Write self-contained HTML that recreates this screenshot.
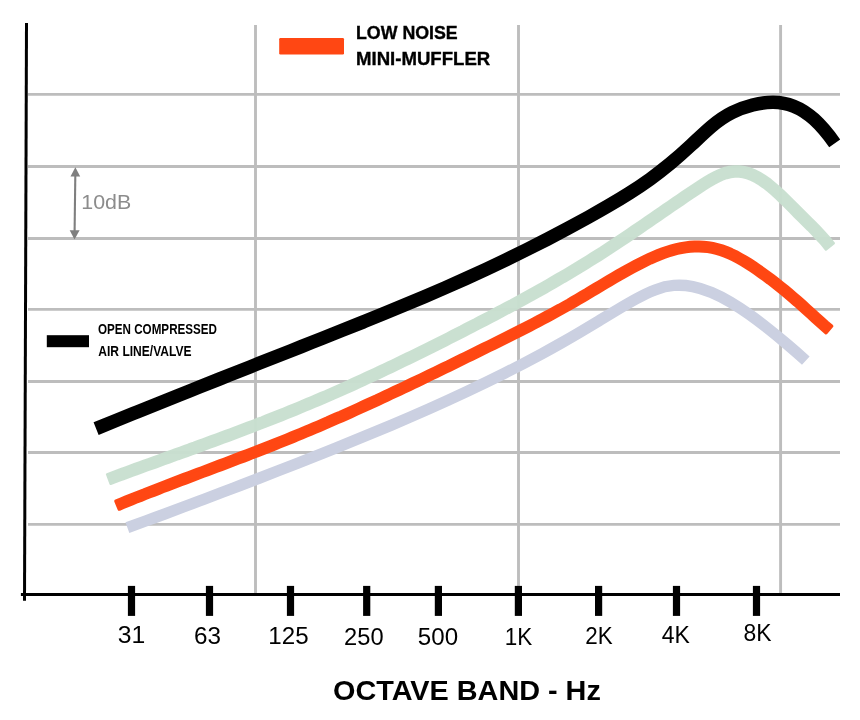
<!DOCTYPE html>
<html lang="en"><head><meta charset="utf-8"><title>Octave Band Noise Chart</title>
<style>html,body{margin:0;padding:0;background:#fff}svg{display:block}</style></head>
<body>
<svg width="860" height="720" viewBox="0 0 860 720">
<rect width="860" height="720" fill="#fff"/>
<g stroke="#bdbdbd" stroke-width="2.9" fill="none">
<line x1="28" y1="94.4" x2="840" y2="94.4"/>
<line x1="28" y1="166.5" x2="840" y2="166.5"/>
<line x1="28" y1="238.5" x2="840" y2="238.5"/>
<line x1="28" y1="309.4" x2="840" y2="309.4"/>
<line x1="28" y1="381.5" x2="840" y2="381.5"/>
<line x1="28" y1="452.5" x2="840" y2="452.5"/>
<line x1="28" y1="524.4" x2="840" y2="524.4"/>
<line x1="255.5" y1="25" x2="255.5" y2="594"/>
<line x1="518.5" y1="25" x2="518.5" y2="594"/>
<line x1="780.6" y1="25" x2="780.6" y2="594"/>
</g>
<g fill="none" stroke-linejoin="round">
<path d="M127.40 527.68C133.68 525.40 139.96 523.10 146.24 520.79C152.53 518.49 158.81 516.17 165.09 513.84C171.37 511.51 177.65 509.17 183.93 506.82C190.21 504.47 196.50 502.11 202.78 499.73C209.06 497.36 215.34 494.98 221.62 492.59C227.90 490.20 234.19 487.79 240.47 485.38C246.75 482.97 253.03 480.55 259.31 478.11C265.59 475.68 271.87 473.24 278.16 470.79C284.44 468.34 290.72 465.88 297.00 463.40C303.28 460.93 309.56 458.46 315.84 455.96C322.13 453.47 328.41 450.97 334.69 448.44C340.97 445.92 347.25 443.39 353.53 440.83C359.81 438.27 366.10 435.69 372.38 433.08C378.66 430.48 384.94 427.85 391.22 425.19C397.50 422.53 403.79 419.85 410.07 417.13C416.35 414.41 422.63 411.66 428.91 408.87C435.19 406.08 441.47 403.25 447.76 400.38C454.04 397.52 460.32 394.61 466.60 391.66C472.88 388.70 479.16 385.71 485.44 382.66C491.73 379.61 498.01 376.52 504.29 373.37C510.57 370.21 516.85 367.00 523.13 363.73C529.41 360.46 535.70 357.12 541.98 353.72C548.26 350.31 554.54 346.83 560.82 343.28C567.10 339.73 573.39 336.09 579.67 332.38C585.95 328.67 592.23 324.86 598.51 321.06C604.79 317.26 611.07 313.45 617.36 309.73C623.64 306.00 629.92 302.33 636.20 298.89C642.48 295.45 648.76 292.30 655.04 289.92C661.33 287.54 667.61 285.99 673.89 285.48C680.17 284.96 686.45 285.39 692.73 286.60C699.01 287.82 705.30 289.83 711.58 292.47C717.86 295.11 724.14 298.37 730.42 302.08C736.70 305.79 742.99 309.95 749.27 314.41C755.55 318.87 761.83 323.64 768.11 328.62C774.39 333.60 780.67 338.77 786.96 344.08C793.24 349.39 799.52 354.87 805.80 360.60" stroke="#cbd0e1" stroke-width="11.3"/>
<path d="M110.7 483.7L115.2 482.1L119.7 480.4L124.2 478.7L128.8 477.1L133.3 475.4L137.8 473.7L142.4 472.1L146.9 470.4L151.4 468.8L156.0 467.2L160.5 465.5L165.0 463.9L169.6 462.2L174.1 460.6L178.6 458.9L183.2 457.3L187.7 455.7L192.2 454.0L196.8 452.4L201.3 450.7L205.8 449.1L210.4 447.4L214.9 445.7L219.5 444.0L224.0 442.4L228.5 440.7L233.1 439.0L237.6 437.3L242.2 435.6L246.7 433.9L251.3 432.1L255.8 430.4L260.3 428.6L264.9 426.9L269.4 425.1L274.0 423.3L278.5 421.5L283.1 419.7L287.6 417.9L292.2 416.0L296.7 414.2L301.2 412.3L305.8 410.4L310.3 408.5L314.9 406.6L319.4 404.7L324.0 402.7L328.5 400.8L333.1 398.8L337.6 396.8L342.2 394.8L346.7 392.7L351.3 390.7L355.8 388.7L360.4 386.6L364.9 384.5L369.4 382.4L374.0 380.3L378.5 378.2L383.1 376.1L387.6 373.9L392.2 371.8L396.7 369.6L401.3 367.4L405.8 365.2L410.3 363.0L414.9 360.8L419.4 358.6L424.0 356.3L428.5 354.1L433.1 351.8L437.6 349.6L442.1 347.3L446.7 345.0L451.2 342.7L455.8 340.4L460.3 338.1L464.8 335.8L469.4 333.4L473.9 331.1L478.5 328.7L483.0 326.4L487.5 324.0L492.1 321.6L496.6 319.3L501.2 316.9L505.7 314.4L510.3 312.0L514.8 309.6L519.3 307.1L523.9 304.7L528.4 302.2L533.0 299.7L537.5 297.1L542.1 294.6L546.6 292.0L551.2 289.4L555.7 286.8L560.3 284.2L564.8 281.5L569.4 278.9L573.9 276.1L578.5 273.4L583.0 270.6L587.6 267.8L592.2 265.0L596.7 262.2L601.3 259.3L605.8 256.4L610.4 253.4L614.9 250.4L619.5 247.4L624.0 244.4L628.6 241.3L633.1 238.3L637.7 235.2L642.2 232.1L646.7 229.0L651.3 225.9L655.8 222.8L660.4 219.6L664.9 216.5L669.4 213.4L673.9 210.3L678.5 207.2L683.0 204.1L687.5 201.0L692.0 197.9L696.6 194.9L701.1 191.9L705.6 189.0L710.0 186.2L714.4 183.6L718.7 181.3L722.9 179.4L727.0 177.9L731.0 176.9L734.9 176.5L738.7 176.5L742.7 177.0L746.7 178.1L750.7 179.6L754.9 181.6L759.1 184.1L763.3 187.1L767.7 190.6L772.1 194.3L776.5 198.4L781.0 202.7L785.5 207.2L790.0 211.7L794.5 216.3L799.1 220.8L803.6 225.3L808.1 229.7L812.6 234.3L817.0 239.0L821.5 244.0L825.9 249.4L833.7 243.2L829.1 237.5L824.4 232.3L819.8 227.4L815.2 222.7L810.6 218.2L806.1 213.7L801.6 209.2L797.1 204.7L792.5 200.1L788.0 195.6L783.4 191.1L778.7 186.9L774.0 182.9L769.3 179.1L764.5 175.8L759.7 172.9L754.7 170.4L749.7 168.5L744.6 167.2L739.5 166.5L734.3 166.5L729.2 167.1L724.1 168.3L719.1 170.1L714.2 172.4L709.5 174.9L704.8 177.7L700.1 180.6L695.6 183.6L691.0 186.6L686.5 189.6L681.9 192.7L677.4 195.8L672.8 198.9L668.3 202.0L663.7 205.1L659.2 208.3L654.7 211.4L650.1 214.5L645.6 217.6L641.1 220.7L636.6 223.8L632.0 226.9L627.5 230.0L623.0 233.1L618.5 236.1L613.9 239.1L609.4 242.1L604.9 245.0L600.4 248.0L595.9 250.8L591.4 253.7L586.9 256.5L582.3 259.3L577.8 262.1L573.3 264.8L568.8 267.6L564.3 270.3L559.8 272.9L555.3 275.5L550.7 278.2L546.2 280.8L541.7 283.3L537.2 285.9L532.7 288.4L528.1 290.9L523.6 293.4L519.1 295.9L514.6 298.3L510.1 300.8L505.5 303.2L501.0 305.6L496.5 308.0L492.0 310.4L487.4 312.8L482.9 315.2L478.4 317.5L473.9 319.9L469.3 322.2L464.8 324.5L460.3 326.9L455.7 329.2L451.2 331.5L446.7 333.8L442.2 336.1L437.6 338.4L433.1 340.6L428.6 342.9L424.1 345.1L419.5 347.4L415.0 349.6L410.5 351.8L406.0 354.0L401.4 356.2L396.9 358.4L392.4 360.6L387.9 362.7L383.3 364.9L378.8 367.0L374.3 369.1L369.8 371.2L365.3 373.3L360.7 375.4L356.2 377.5L351.7 379.5L347.2 381.6L342.6 383.6L338.1 385.6L333.6 387.6L329.1 389.6L324.6 391.6L320.0 393.5L315.5 395.5L311.0 397.4L306.5 399.3L301.9 401.2L297.4 403.1L292.9 404.9L288.4 406.8L283.9 408.6L279.3 410.4L274.8 412.2L270.3 414.0L265.8 415.8L261.3 417.6L256.7 419.3L252.2 421.1L247.7 422.8L243.2 424.5L238.6 426.2L234.1 427.9L229.6 429.6L225.1 431.3L220.5 433.0L216.0 434.7L211.5 436.3L206.9 438.0L202.4 439.7L197.9 441.3L193.4 443.0L188.8 444.6L184.3 446.3L179.8 447.9L175.2 449.5L170.7 451.2L166.2 452.8L161.6 454.5L157.1 456.1L152.6 457.8L148.0 459.4L143.5 461.0L138.9 462.7L134.4 464.3L129.9 466.0L125.3 467.7L120.8 469.3L116.3 471.0L111.7 472.7L107.2 474.4Z" fill="#c9e0d0" stroke="#c9e0d0" stroke-width="2.6" opacity="0.97"/>
<path d="M119.3 509.0L123.7 507.1L128.2 505.3L132.6 503.5L137.1 501.7L141.6 500.0L146.0 498.2L150.5 496.4L155.0 494.7L159.4 493.0L163.9 491.2L168.4 489.5L172.8 487.8L177.3 486.1L181.8 484.4L186.2 482.7L190.7 481.0L195.2 479.3L199.6 477.6L204.1 475.9L208.6 474.2L213.1 472.6L217.5 470.9L222.0 469.2L226.5 467.5L231.0 465.8L235.4 464.1L239.9 462.4L244.4 460.7L248.9 459.0L253.3 457.2L257.8 455.5L262.3 453.8L266.8 452.0L271.3 450.3L275.7 448.5L280.2 446.7L284.7 444.9L289.2 443.1L293.7 441.3L298.1 439.4L302.6 437.6L307.1 435.7L311.6 433.8L316.1 431.9L320.6 430.0L325.0 428.1L329.5 426.2L334.0 424.2L338.5 422.2L343.0 420.3L347.5 418.3L351.9 416.3L356.4 414.2L360.9 412.2L365.4 410.2L369.9 408.1L374.3 406.1L378.8 404.0L383.3 401.9L387.8 399.8L392.2 397.7L396.7 395.6L401.2 393.5L405.7 391.4L410.2 389.3L414.6 387.1L419.1 385.0L423.6 382.8L428.1 380.7L432.5 378.5L437.0 376.3L441.5 374.2L446.0 372.0L450.4 369.8L454.9 367.6L459.4 365.4L463.9 363.2L468.3 361.0L472.8 358.8L477.3 356.6L481.8 354.4L486.2 352.2L490.7 350.0L495.2 347.8L499.7 345.6L504.1 343.4L508.6 341.1L513.1 338.9L517.6 336.6L522.1 334.4L526.5 332.1L531.0 329.8L535.5 327.4L540.0 325.1L544.5 322.7L549.0 320.3L553.5 317.9L557.9 315.5L562.4 313.0L566.9 310.5L571.4 308.0L575.9 305.4L580.4 302.8L584.9 300.2L589.4 297.5L593.9 294.8L598.3 292.1L602.8 289.5L607.3 286.8L611.7 284.1L616.2 281.5L620.6 278.9L625.1 276.4L629.5 273.9L634.0 271.4L638.4 269.1L642.8 266.8L647.2 264.6L651.6 262.5L656.0 260.6L660.3 258.8L664.7 257.1L669.0 255.6L673.4 254.3L677.7 253.1L681.9 252.2L686.2 251.5L690.5 251.0L694.7 250.7L699.0 250.7L703.2 250.9L707.4 251.3L711.6 252.0L715.8 253.0L720.1 254.3L724.3 255.8L728.6 257.7L732.9 259.7L737.2 262.0L741.6 264.5L746.0 267.2L750.4 270.1L754.8 273.1L759.2 276.2L763.6 279.4L768.1 282.7L772.5 286.1L776.9 289.6L781.3 293.2L785.8 296.9L790.2 300.7L794.7 304.5L799.1 308.5L803.5 312.5L808.0 316.5L812.5 320.6L817.0 324.7L821.5 328.7L826.0 332.6L831.5 326.2L827.0 322.4L822.6 318.4L818.1 314.4L813.7 310.3L809.2 306.3L804.7 302.2L800.2 298.2L795.7 294.3L791.2 290.5L786.7 286.7L782.2 283.1L777.6 279.5L773.1 276.0L768.6 272.7L764.1 269.4L759.6 266.2L755.0 263.1L750.5 260.1L745.9 257.3L741.3 254.7L736.7 252.2L732.1 250.0L727.4 248.0L722.7 246.3L718.0 244.9L713.3 243.8L708.6 243.0L703.8 242.5L699.1 242.3L694.4 242.3L689.7 242.6L685.0 243.2L680.3 244.0L675.7 245.0L671.0 246.2L666.4 247.6L661.8 249.2L657.2 251.0L652.7 252.9L648.1 254.9L643.5 257.1L639.0 259.3L634.5 261.6L630.0 264.0L625.4 266.5L620.9 269.1L616.4 271.6L611.9 274.3L607.5 276.9L603.0 279.6L598.5 282.3L594.0 284.9L589.5 287.6L585.1 290.3L580.6 292.9L576.2 295.5L571.7 298.1L567.3 300.7L562.8 303.2L558.4 305.7L553.9 308.1L549.5 310.5L545.0 312.9L540.5 315.3L536.1 317.7L531.6 320.0L527.2 322.3L522.7 324.6L518.2 326.9L513.8 329.1L509.3 331.4L504.9 333.6L500.4 335.9L495.9 338.1L491.5 340.3L487.0 342.5L482.5 344.7L478.0 346.9L473.6 349.1L469.1 351.3L464.6 353.5L460.2 355.7L455.7 357.9L451.2 360.1L446.8 362.3L442.3 364.4L437.8 366.6L433.3 368.8L428.9 370.9L424.4 373.1L419.9 375.3L415.5 377.4L411.0 379.5L406.5 381.7L402.1 383.8L397.6 385.9L393.1 388.0L388.7 390.1L384.2 392.2L379.7 394.3L375.3 396.4L370.8 398.4L366.3 400.5L361.9 402.5L357.4 404.6L353.0 406.6L348.5 408.6L344.0 410.6L339.6 412.6L335.1 414.5L330.6 416.5L326.2 418.5L321.7 420.4L317.3 422.3L312.8 424.2L308.3 426.1L303.9 428.0L299.4 429.8L294.9 431.7L290.5 433.5L286.0 435.3L281.6 437.1L277.1 438.9L272.6 440.7L268.2 442.4L263.7 444.2L259.2 445.9L254.8 447.7L250.3 449.4L245.8 451.1L241.4 452.8L236.9 454.5L232.4 456.2L228.0 457.9L223.5 459.6L219.0 461.3L214.6 463.0L210.1 464.7L205.6 466.4L201.2 468.1L196.7 469.8L192.2 471.5L187.7 473.1L183.3 474.8L178.8 476.5L174.3 478.2L169.8 480.0L165.4 481.7L160.9 483.4L156.4 485.1L151.9 486.9L147.4 488.6L143.0 490.4L138.5 492.1L134.0 493.9L129.5 495.7L125.0 497.5L120.5 499.4L116.1 501.2Z" fill="#ff4713" stroke="#ff4713" stroke-width="3.6"/>
<path d="M96.10 428.62C102.94 425.84 109.78 423.06 116.62 420.30C123.46 417.53 130.29 414.76 137.13 412.01C143.97 409.25 150.81 406.50 157.65 403.75C164.49 401.00 171.33 398.26 178.17 395.52C185.01 392.78 191.84 390.05 198.68 387.32C205.52 384.59 212.36 381.86 219.20 379.14C226.04 376.42 232.88 373.70 239.72 370.98C246.56 368.27 253.39 365.55 260.23 362.84C267.07 360.13 273.91 357.42 280.75 354.71C287.59 352.01 294.43 349.30 301.27 346.60C308.11 343.90 314.94 341.19 321.78 338.49C328.62 335.78 335.46 333.07 342.30 330.34C349.14 327.62 355.98 324.89 362.82 322.13C369.66 319.38 376.49 316.61 383.33 313.82C390.17 311.02 397.01 308.21 403.85 305.36C410.69 302.51 417.53 299.63 424.37 296.72C431.21 293.81 438.04 290.86 444.88 287.86C451.72 284.87 458.56 281.84 465.40 278.75C472.24 275.67 479.08 272.54 485.92 269.35C492.76 266.17 499.59 262.93 506.43 259.63C513.27 256.33 520.11 252.98 526.95 249.56C533.79 246.14 540.63 242.67 547.47 239.12C554.31 235.58 561.14 231.98 567.98 228.30C574.82 224.63 581.66 220.88 588.50 217.07C595.34 213.25 602.18 209.38 609.02 205.39C615.86 201.41 622.69 197.31 629.53 192.97C636.37 188.63 643.21 184.06 650.05 179.15C656.89 174.24 663.73 168.97 670.57 163.30C677.41 157.64 684.24 151.59 691.08 145.19C697.92 138.80 704.76 132.12 711.60 126.34C718.44 120.55 725.28 115.89 732.12 112.48C738.96 109.07 745.79 106.73 752.63 104.99C759.47 103.26 766.31 102.22 773.15 102.28C779.99 102.33 786.83 103.47 793.67 106.16C800.51 108.84 807.34 113.10 814.18 119.34C821.02 125.58 827.86 133.69 834.70 143.30" stroke="#000" stroke-width="13.5"/>
</g>
<g stroke="#000" stroke-width="3" fill="none">
<line x1="26.5" y1="22.9" x2="24.5" y2="600.8"/>
<line x1="20.9" y1="594.5" x2="840" y2="594.5"/>
</g>
<g fill="#000">
<rect x="127.9" y="585.9" width="7.2" height="30"/>
<rect x="205.9" y="585.9" width="7.2" height="30"/>
<rect x="286.9" y="585.9" width="7.2" height="30"/>
<rect x="363.1" y="585.9" width="7.2" height="30"/>
<rect x="434.8" y="585.9" width="7.2" height="30"/>
<rect x="514.8" y="585.9" width="7.2" height="30"/>
<rect x="595.0" y="585.9" width="7.2" height="30"/>
<rect x="672.9" y="585.9" width="7.2" height="30"/>
<rect x="752.9" y="585.9" width="7.2" height="30"/>
</g>
<rect x="279.2" y="38" width="64.8" height="16.5" rx="1.2" fill="#ff4713"/>
<rect x="46.8" y="335.2" width="42.2" height="12" fill="#000"/>
<g fill="#7f7f7f" stroke="none"><path d="M74.25 176 L76.35 176 L75.65 231 L73.55 231Z"/><path d="M75.35 167.2 L80.2 176.6 L70.5 176.6Z"/><path d="M74.5 239.5 L79.6 230.3 L69.7 230.3Z"/></g>
<g font-family="'Liberation Sans', sans-serif">
<text x="117.85" y="643.00" font-size="24.0" font-weight="normal" fill="#000" textLength="27.50" lengthAdjust="spacingAndGlyphs">31</text>
<text x="194.10" y="643.60" font-size="24.0" font-weight="normal" fill="#000" textLength="27.00" lengthAdjust="spacingAndGlyphs">63</text>
<text x="268.35" y="643.60" font-size="24.0" font-weight="normal" fill="#000" textLength="40.25" lengthAdjust="spacingAndGlyphs">125</text>
<text x="344.10" y="645.00" font-size="24.0" font-weight="normal" fill="#000" textLength="39.50" lengthAdjust="spacingAndGlyphs">250</text>
<text x="417.85" y="645.00" font-size="24.0" font-weight="normal" fill="#000" textLength="40.25" lengthAdjust="spacingAndGlyphs">500</text>
<text x="504.85" y="645.00" font-size="24.0" font-weight="normal" fill="#000" textLength="27.50" lengthAdjust="spacingAndGlyphs">1K</text>
<text x="585.30" y="643.60" font-size="24.0" font-weight="normal" fill="#000" textLength="27.40" lengthAdjust="spacingAndGlyphs">2K</text>
<text x="661.80" y="643.00" font-size="24.0" font-weight="normal" fill="#000" textLength="28.10" lengthAdjust="spacingAndGlyphs">4K</text>
<text x="743.60" y="640.80" font-size="24.0" font-weight="normal" fill="#000" textLength="28.00" lengthAdjust="spacingAndGlyphs">8K</text>
<text x="81.30" y="208.80" font-size="20.6" font-weight="normal" fill="#8c8c8c" textLength="50.00" lengthAdjust="spacingAndGlyphs">10dB</text>
<text x="356.00" y="38.90" font-size="18.3" font-weight="bold" fill="#000" stroke="#000" stroke-width="0.35" textLength="101.70" lengthAdjust="spacingAndGlyphs">LOW NOISE</text>
<text x="356.00" y="65.00" font-size="18.3" font-weight="bold" fill="#000" stroke="#000" stroke-width="0.35" textLength="134.30" lengthAdjust="spacingAndGlyphs">MINI-MUFFLER</text>
<text x="98.00" y="334.30" font-size="14.8" font-weight="bold" fill="#000" textLength="119.00" lengthAdjust="spacingAndGlyphs">OPEN COMPRESSED</text>
<text x="98.30" y="356.10" font-size="14.8" font-weight="bold" fill="#000" textLength="93.20" lengthAdjust="spacingAndGlyphs">AIR LINE/VALVE</text>
<text x="333.00" y="700.10" font-size="28.3" font-weight="bold" fill="#000" textLength="267.80" lengthAdjust="spacingAndGlyphs">OCTAVE BAND - Hz</text>
</g>
</svg>
</body></html>
